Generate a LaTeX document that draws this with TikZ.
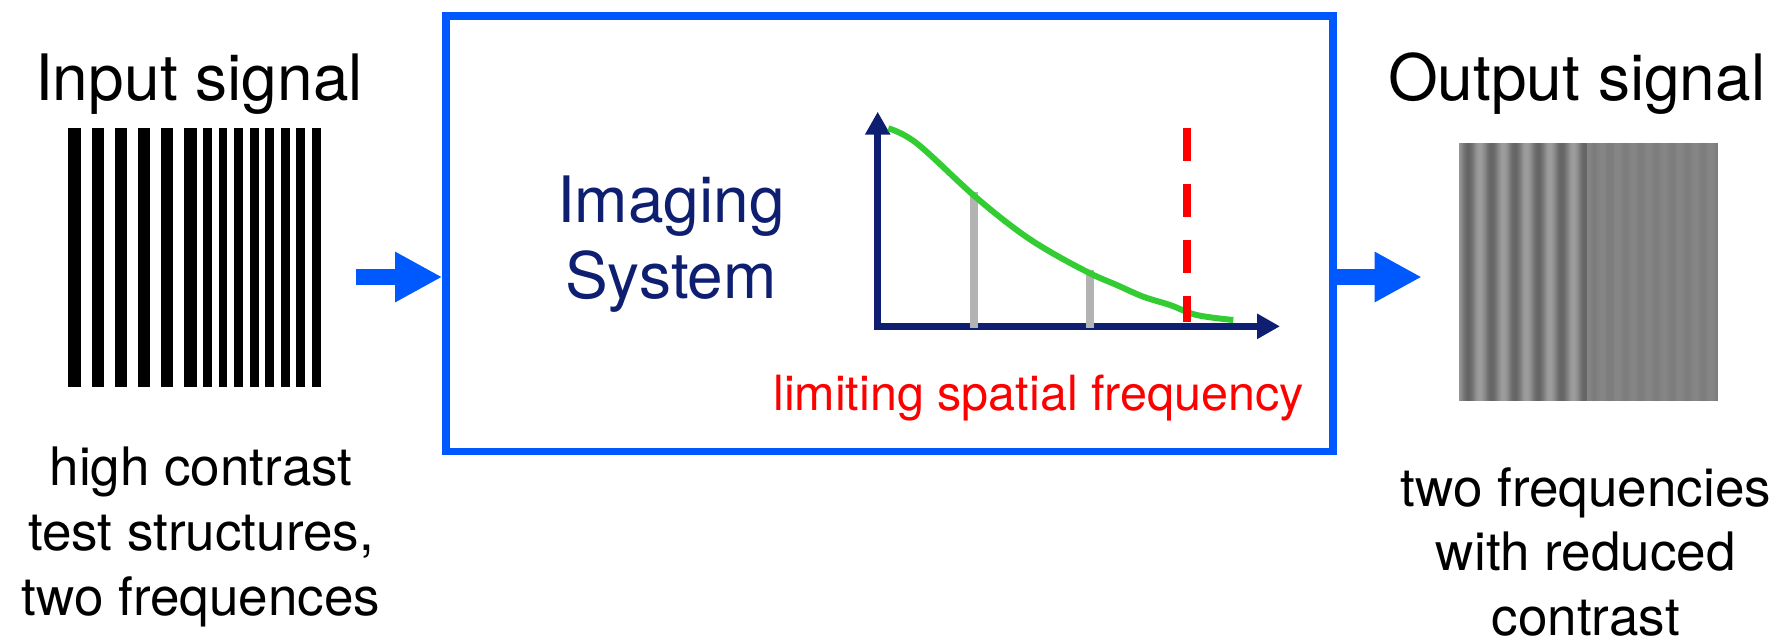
\documentclass[tikz,border=0pt]{standalone}
\usepackage{fontspec}
\setmainfont{TeX Gyre Heros}
\usetikzlibrary{arrows.meta}
\definecolor{flowblue}{RGB}{0,88,255}
\definecolor{navy}{RGB}{14,30,112}
\definecolor{curvegreen}{RGB}{51,204,51}
\definecolor{bargray}{RGB}{179,179,179}
\definecolor{limred}{RGB}{255,0,0}
\begin{document}
\begin{tikzpicture}[x=1pt,y=-1pt,
  big/.style={font=\fontsize{64}{76}\selectfont},
  note/.style={font=\fontsize{53}{65}\selectfont, align=center, anchor=base},
  flow/.style={flowblue, line width=15.7pt, -{Triangle[length=47pt,width=47pt]}},
  mtfaxis/.style={navy, line width=7pt, line join=miter,
    {Triangle[length=23pt,width=24pt]}-{Triangle[length=23pt,width=24pt]}},
  sysbox/.style={draw=flowblue, line width=7.6pt, inner sep=0pt},
  imgbox/.style={inner sep=0pt, outer sep=0pt}]
\useasboundingbox (0,0) rectangle (1785,641);

% titles
\node[big, anchor=base] (tin) at (199,100) {Input signal};
\node[big, anchor=base] (tout) at (1576.7,100) {Output signal};

% input test pattern
\node[imgbox, minimum width=252.4pt, minimum height=258.4pt] (inp) at (194.5,257.5) {};
\foreach \i in {0,...,5} \fill[black] (68.3+23.2*\i,128.3) rectangle ++(12.3,258.4);
\foreach \i in {0,...,7} \fill[black] (203.3+15.52*\i,128.3) rectangle ++(8.67,258.4);

% output image
\node[imgbox, minimum width=258.4pt, minimum height=258pt] (out) at (1588.5,271.7) {};
\foreach \i in {0,...,257} {
  \pgfmathsetmacro{\xx}{1459.3+\i}
  \pgfmathtruncatemacro{\g}{\i<128 ? 50+11*cos(15.45*(\i-9)) : 50+2*cos(23.2*(\i-135))}
  \fill[black!\g] (\xx,142.7) rectangle ++(1.3,258);
}

% imaging system box
\node[sysbox, minimum width=887pt, minimum height=435.8pt] (sys) at (889.5,233.6) {};
\node[big, navy, align=center, anchor=base] (label) at (671,298.3) {Imaging\\System};

% MTF plot
\draw[mtfaxis] (877.7,111.7) |- (1280,326.3);
\draw[bargray, line width=7.7pt] (973.8,191.7) -- (973.8,328.3);
\draw[bargray, line width=7.7pt] (1090.2,270) -- (1090.2,328.3);
\draw[curvegreen, line width=6pt] plot[smooth, tension=0.6] coordinates {
  (888.3,128.3) (916.7,143.3) (973.3,195) (1016.7,230) (1050,251.7) (1090,273.3)
  (1116.7,285) (1143.3,296.7) (1170,305) (1196.7,315) (1233.3,320)};
\draw[limred, line width=8pt, dash pattern=on 32.3pt off 23.7pt] (1186.7,128.3) -- (1186.7,322);
\node[limred, font=\fontsize{48.5}{58}\selectfont, anchor=base] (lim) at (1038.6,410) {limiting spatial frequency};

% flow arrows
\coordinate (a1) at (356,277);
\coordinate (a2) at (1421.7,277);
\draw[flow] (a1) -- (a1 -| sys.west);
\draw[flow] (a2 -| sys.east) -- (a2);

% captions
\node[note] (cin) at (201,615) {high contrast\\test structures,\\two frequences};
\node[note, font=\fontsize{53}{64.2}\selectfont] (cout) at (1585.8,635) {two frequencies\\with reduced\\contrast};
\end{tikzpicture}
\end{document}
